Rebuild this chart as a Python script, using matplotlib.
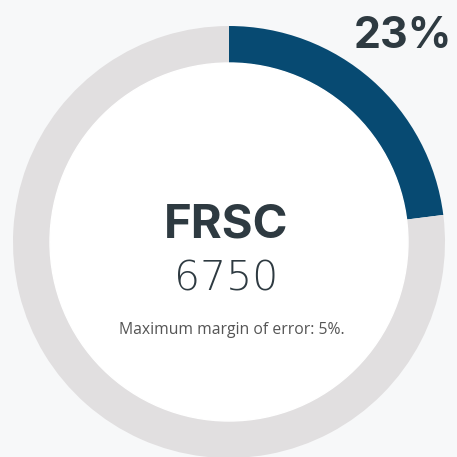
import matplotlib
matplotlib.use("Agg")
import matplotlib.pyplot as plt

# Data
labels = ["FRSC", "Rest"]
values = [23, 77]
title = "FRSC"
count = "6750"
note = "Maximum margin of error: 5%."

BG = "#f7f8f9"
BLUE = "#074a72"
GRAY = "#e1dfe0"
TEXT = "#2e3a41"

W = H = 457
fig = plt.figure(figsize=(W / 100, H / 100), dpi=100, facecolor=BG)
ax = fig.add_axes([0, 0, 1, 1])
ax.set_facecolor(BG)

cx, cy = 229, H - 242
r_out, ring = 216, 37

ax.pie(values, colors=[BLUE, GRAY], startangle=90, counterclock=False,
       center=(cx, cy), radius=r_out,
       wedgeprops=dict(width=ring, linewidth=0))
inner = plt.Circle((cx, cy), r_out - ring, color="white", zorder=3)
ax.add_patch(inner)

ax.set_xlim(0, W)
ax.set_ylim(0, H)
ax.set_aspect("equal")
ax.axis("off")

pct = f"{values[0] / sum(values) * 100:.0f}%"
ax.text(452, H - 36, pct, ha="right", va="center", fontsize=31,
        fontweight="bold", family="Inter", color=TEXT, zorder=5)
ax.text(cx - 3, H - 225, title, ha="center", va="center", fontsize=34,
        fontweight="bold", family="Inter", color=TEXT, zorder=5)
ax.text(cx - 3, H - 279, count, ha="center", va="center", fontsize=29.5,
        fontweight="light", family="DejaVu Sans", color=TEXT, zorder=5)
ax.text(cx + 3, H - 330, note, ha="center", va="center", fontsize=11.3,
        family="Open Sans", color="#555555", zorder=5)

fig.savefig("out.png", dpi=100, facecolor=BG)
